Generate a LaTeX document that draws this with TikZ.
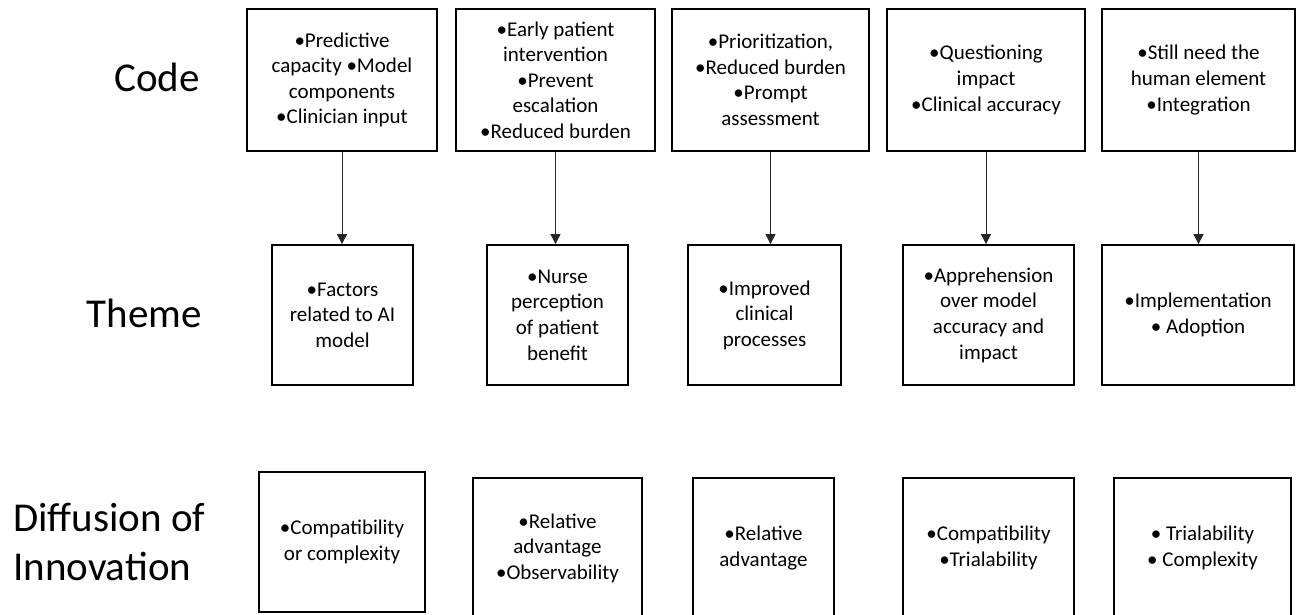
\documentclass[tikz,border=0pt]{standalone}
\usepackage{fontspec}
\setmainfont{Carlito}
\usetikzlibrary{arrows.meta}

\tikzset{
  box/.style={draw=black, line width=1.8pt, inner sep=0pt, align=center,
    font=\fontsize{21}{25.6}\selectfont},
  rowlabel/.style={inner sep=0pt, font=\fontsize{41}{43}\selectfont},
  arr/.style={draw=black!85, line width=1pt, -{Triangle[length=10pt,width=10pt]}}
}

\begin{document}
\begin{tikzpicture}[x=1pt,y=-1pt]
\useasboundingbox (0,0) rectangle (1298,615);
\clip (0,0) rectangle (1298,615);

% row labels, each centred on its row
\node[rowlabel, anchor=base east] (lcode) at (200,92) {Code};
\node[rowlabel, anchor=base east] (ltheme) at (202,327) {Theme};
\node[rowlabel, anchor=base west] (ldiff1) at (13,531) {Diffusion of};
\node[rowlabel, anchor=base west] (ldiff2) at (13,580) {Innovation};

% codes
\node[box, minimum width=190pt, minimum height=142pt] (c1) at (342,80)
  {•Predictive\\capacity •Model\\components\\•Clinician input};
\node[box, minimum width=199pt, minimum height=142pt] (c2) at (555.5,80)
  {•Early patient\\intervention\\•Prevent\\escalation\\•Reduced burden};
\node[box, minimum width=197pt, minimum height=142pt] (c3) at (770.5,80)
  {•Prioritization,\\•Reduced burden\\•Prompt\\assessment};
\node[box, minimum width=198pt, minimum height=142pt] (c4) at (986,80)
  {•Questioning\\impact\\•Clinical accuracy};
\node[box, minimum width=193pt, minimum height=142pt] (c5) at (1198.5,80)
  {•Still need the\\human element\\•Integration};

% themes
\node[box, minimum width=141pt, minimum height=140pt] (t1) at (342.5,315)
  {•Factors\\related to AI\\model};
\node[box, minimum width=141pt, minimum height=140pt] (t2) at (557.5,315)
  {•Nurse\\perception\\of patient\\benefit};
\node[box, minimum width=153pt, minimum height=140pt] (t3) at (764.5,315)
  {•Improved\\clinical\\processes};
\node[box, minimum width=171pt, minimum height=140pt] (t4) at (988.5,315)
  {•Apprehension\\over model\\accuracy and\\impact};
\node[box, minimum width=192pt, minimum height=140pt] (t5) at (1198,315)
  {•Implementation\\• Adoption};

% diffusion of innovation attributes
\node[box, minimum width=166pt, minimum height=140pt] (d1) at (342,542)
  {•Compatibility\\or complexity};
\node[box, minimum width=169pt, minimum height=140pt] (d2) at (557.5,548)
  {•Relative\\advantage\\•Observability};
\node[box, minimum width=141pt, minimum height=140pt] (d3) at (763.5,548)
  {•Relative\\advantage};
\node[box, minimum width=171pt, minimum height=140pt] (d4) at (988.5,548)
  {•Compatibility\\•Trialability};
\node[box, minimum width=177pt, minimum height=140pt] (d5) at (1202.5,548)
  {• Trialability\\• Complexity};

% code -> theme
\foreach \i in {1,...,5}
  \draw[arr] (c\i.south) -- (c\i.south |- t\i.north);
\end{tikzpicture}
\end{document}
